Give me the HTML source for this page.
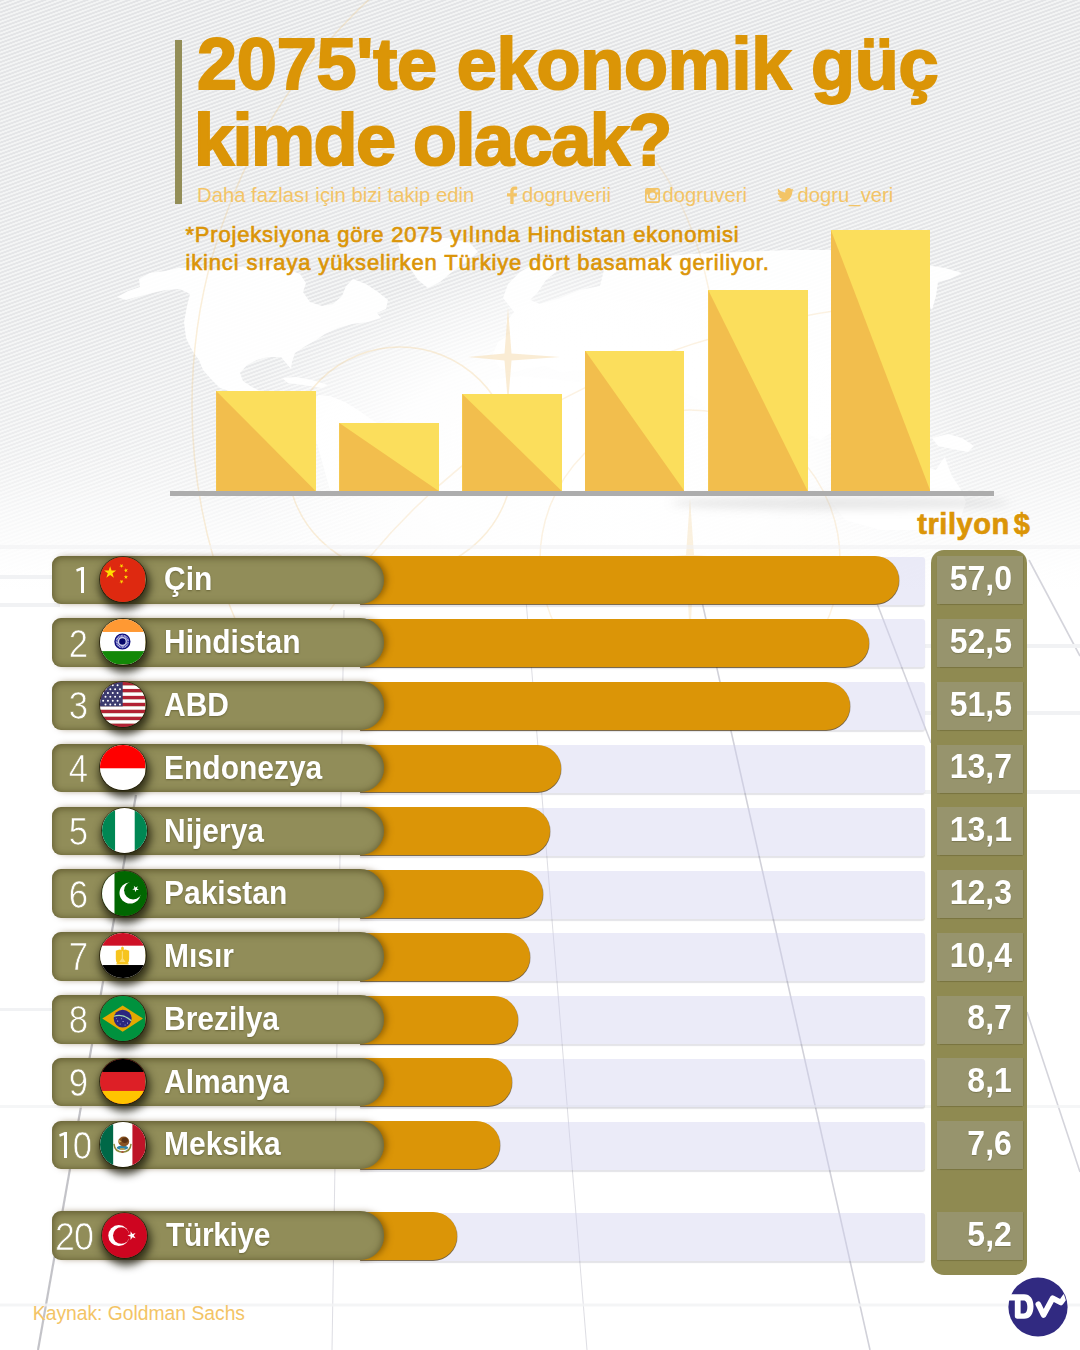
<!DOCTYPE html>
<html lang="tr"><head><meta charset="utf-8"><title>2075'te ekonomik güç kimde olacak?</title>
<style>
*{box-sizing:border-box;margin:0;padding:0}
html,body{width:1080px;height:1350px;overflow:hidden;background:#fff}
body{position:relative;font-family:"Liberation Sans",sans-serif}
.abs{position:absolute}
#bg{left:0;top:0;width:1080px;height:620px;
 background:
  linear-gradient(to bottom,rgba(255,255,255,0) 0,rgba(255,255,255,.1) 320px,rgba(255,255,255,.42) 480px,#fff 590px),
  repeating-linear-gradient(-20deg,#E3E4E6 0,#E3E4E6 1.3px,#F3F4F4 1.9px,#F3F4F4 3.1px,#E3E4E6 3.6px);}
#vbar{left:175px;top:40px;width:6.5px;height:164px;background:#938E57}
.t1,.t2{left:197px;color:#DB9507;font-weight:bold;font-size:72px;line-height:72px;white-space:nowrap;-webkit-text-stroke:2px #DB9507}
.t1{top:27.9px;letter-spacing:-.2px}
.t2{top:104.4px;letter-spacing:-1.5px;left:194px}
.sub{color:#F3C466;font-size:20.3px;line-height:22px;white-space:nowrap;top:183.8px}
.desc{left:186px;color:#DB9507;font-size:22px;line-height:28px;white-space:nowrap;letter-spacing:.74px;-webkit-text-stroke:.65px #DB9507}
#base{left:170px;top:490.5px;width:824px;height:5.5px;background:#ADADAD}
.yb{background:#FBDE5C;overflow:hidden}
.yb i{position:absolute;left:0;top:0;width:100%;height:100%;background:#F2BE4D;clip-path:polygon(0 0,0 100%,100% 100%)}
#tril{left:880px;width:150.5px;text-align:right;top:508.2px;color:#DB9507;font-weight:bold;font-size:29px;line-height:32px;white-space:nowrap;letter-spacing:.55px;word-spacing:-4.5px;-webkit-text-stroke:.7px #DB9507}
#col{left:931px;top:550px;width:96px;height:725px;background:#8F8A51;border-radius:13px}
.track{left:360px;width:565px;height:48px;background:rgba(208,208,238,.42);border-radius:0 3px 3px 0;box-shadow:0 1.5px 1px rgba(120,120,140,.2)}
.bar{left:360px;height:47.9px;background:#DB9507;border-radius:0 24px 24px 0;box-shadow:0 1px 0 rgba(70,45,0,.6),.7px .5px 0 rgba(70,45,0,.35)}
.pill{left:51.5px;width:332.5px;height:48.6px;background:#918D59;border-radius:9px 24px 24px 9px;
 box-shadow:inset 0 1px 7px 1px rgba(66,60,22,.6),4px 0 6px -1px rgba(80,50,0,.5)}
.num{left:37.5px;width:80px;text-align:center;color:#fff;font-size:38.5px;line-height:48px;height:48px;letter-spacing:-1px;-webkit-text-stroke:.7px #918D59;transform:scaleX(.9)}
.one{fill:#fff}
.name{left:163.6px;color:#fff;font-weight:bold;font-size:33.5px;line-height:48px;height:48px;white-space:nowrap;text-shadow:0 1px 2px rgba(60,55,20,.45);transform:scaleX(.895);transform-origin:0 50%}
.flag{left:100.4px;width:45.2px;height:45.2px;border-radius:50%;box-shadow:1.5px 5px 8px 2.5px rgba(22,20,5,.78),0 0 0 .8px rgba(40,30,10,.85);overflow:hidden}
.flag svg{display:block;width:100%;height:100%}
.cell{left:936.7px;width:86.5px;height:48px;background:#97946D;box-shadow:0 1.2px 1px rgba(90,86,40,.4),1px 0 0 rgba(120,116,70,.45)}
.cell b{position:absolute;right:11px;top:-1.2px;color:#fff;font-weight:bold;font-size:34.4px;line-height:46px;white-space:nowrap;text-shadow:0 1px 1px rgba(70,66,30,.35);transform:scaleX(.93);transform-origin:100% 50%}
#src{left:32.8px;top:1302px;color:#F3C466;font-size:19.3px;line-height:24px;white-space:nowrap}
#logo{left:1007.5px;top:1277.1px;width:60px;height:60px}
</style></head><body>
<div id="bg" class="abs"></div>
<svg class="abs" style="left:0;top:0" width="1080" height="640" viewBox="0 0 1080 640">
<defs>
<radialGradient id="glow" cx="0.5" cy="0.5" r="0.5"><stop offset="0" stop-color="#fff" stop-opacity="1"/><stop offset=".55" stop-color="#fff" stop-opacity=".92"/><stop offset=".8" stop-color="#fff" stop-opacity=".45"/><stop offset="1" stop-color="#fff" stop-opacity="0"/></radialGradient>
<linearGradient id="fade" x1="0" y1="0" x2="0" y2="1"><stop offset="0" stop-color="#fff" stop-opacity="0"/><stop offset=".5" stop-color="#fff" stop-opacity=".4"/><stop offset="1" stop-color="#fff" stop-opacity=".9"/></linearGradient>
</defs>
<g fill="#fff" fill-opacity=".93" id="map">
<path d="M117 297 L128 291 L140 287 L139 279 L150 273 L165 271 L178 268 L196 267 L215 270 L232 266 L252 268 L270 265 L287 269 L300 274 L306 283 L303 292 L310 302 L322 306 L333 304 L342 296 L346 286 L353 279 L366 284 L378 292 L388 300 L386 309 L377 313 L381 318 L368 322 L352 324 L338 328 L325 334 L316 340 L304 347 L295 353 L292 362 L291 369 L286 363 L281 357 L268 357 L257 360 L247 365 L240 373 L243 381 L252 387 L262 392 L270 397 L282 400 L292 398 L300 404 L310 410 L318 395 L330 396 L345 402 L358 410 L368 417 L380 425 L395 432 L405 445 L400 470 L380 490 L330 490 L316 440 L300 420 L280 412 L262 405 L246 398 L232 392 L220 388 L210 378 L203 370 L199 360 L193 352 L186 338 L184 322 L187 306 L190 294 L180 289 L166 290 L152 293 L137 297 L126 300 Z"/>
<path d="M282 378 L296 377 L312 380 L328 385 L322 388 L304 385 L288 383 Z"/>
<path d="M398 243 L420 238 L448 238 L470 243 L478 252 L466 262 L452 272 L440 282 L428 288 L418 280 L410 268 L402 256 Z"/>
<path d="M503 298 L508 284 L520 272 L534 264 L548 260 L560 262 L556 272 L546 280 L538 292 L530 300 L540 304 L560 298 L580 290 L600 286 L604 270 L620 262 L650 258 L690 254 L740 252 L790 250 L830 250 L860 254 L890 258 L920 264 L945 268 L962 273 L950 279 L938 282 L936 296 L932 310 L926 300 L922 288 L910 290 L900 300 L905 318 L898 335 L890 350 L880 365 L870 380 L860 395 L850 410 L835 430 L820 440 L800 430 L780 410 L760 420 L740 440 L720 430 L700 400 L680 390 L660 395 L640 380 L620 372 L600 376 L580 370 L560 372 L545 366 L530 368 L515 372 L500 368 L492 356 L498 342 L510 334 L506 322 L514 312 Z"/>
<path d="M490 380 L520 376 L560 380 L600 384 L630 400 L650 430 L640 470 L610 500 L570 500 L550 460 L520 440 L495 420 L484 400 Z"/>
<path d="M932 438 L948 434 L962 438 L974 446 L968 452 L952 449 L938 446 Z"/>
<path d="M832 470 L860 462 L890 460 L915 464 L936 470 L941 462 L945 457 L948 466 L952 476 L960 488 L966 502 L960 520 L930 530 L880 530 L845 520 L830 500 Z"/>
</g>
<ellipse cx="600" cy="455" rx="370" ry="200" fill="url(#glow)"/>
<rect x="0" y="440" width="1080" height="200" fill="url(#fade)"/>
<g fill="none" stroke="#F0C070" stroke-opacity=".26" stroke-width="1.5">
<circle cx="745" cy="405" r="553"/>
<circle cx="400" cy="460" r="113"/>
<circle cx="690" cy="560" r="150" stroke-opacity=".2"/>
<path d="M330 610 Q520 330 930 300" stroke-opacity=".2"/>
<path d="M655 160 Q720 250 722 420" stroke-opacity=".2"/>
</g>
<g fill="#F6DDB0" fill-opacity=".55">
<path d="M508 308 L511.5 353.5 L560 357 L511.5 360.5 L508 404 L504.5 360.5 L468 357 L504.5 353.5Z"/>
<path d="M690 498 L694 555 L760 560 L694 565 L690 640 L686 565 L620 560 L686 555Z" fill-opacity=".4"/>
</g>
<ellipse cx="840" cy="503" rx="170" ry="7" fill="#999" fill-opacity=".22" filter="url(#bl)"/>
<defs><filter id="bl" x="-20%" y="-300%" width="140%" height="700%"><feGaussianBlur stdDeviation="4"/></filter></defs>
</svg>
<svg class="abs" style="left:0;top:520px" width="1080" height="830" viewBox="0 520 1080 830">
<g fill="none" stroke="#C9C9D2" stroke-width="1.6">
<path d="M696 575 L870 1350" stroke-opacity=".85"/>
<path d="M866 575 L931 743 M1027 1012 L1080 1172" stroke-opacity=".8"/>
<path d="M1029 560 L1080 656" stroke-opacity=".8"/>
<path d="M136 795 L38 1350" stroke="#BDBDC2" stroke-width="2.2" stroke-opacity=".9"/>
<path d="M524 575 L587 1350" stroke-width=".9" stroke-opacity=".7"/>
<path d="M344 610 L332 1350" stroke-width=".9" stroke-opacity=".7"/>
</g>
<g fill="#F1F2F4">
<rect x="0" y="545" width="1080" height="4" fill-opacity=".6"/><rect x="0" y="575" width="60" height="4"/><rect x="0" y="603" width="60" height="4"/>
<rect x="925" y="644" width="155" height="4"/><rect x="925" y="711" width="155" height="4"/><rect x="925" y="790" width="155" height="4"/>
<rect x="0" y="1008" width="60" height="3"/><rect x="0" y="1105" width="1080" height="3" fill-opacity=".7"/><rect x="0" y="1303.5" width="1080" height="3" fill-opacity=".8"/>
</g>
</svg>
<div id="vbar" class="abs"></div>
<div class="abs t1">2075'te ekonomik güç</div>
<div class="abs t2">kimde olacak?</div>
<div class="abs sub" style="left:197px">Daha fazlası için bizi takip edin</div>
<svg class="abs" style="left:506px;top:186px" width="12" height="18" viewBox="0 0 12 18"><path d="M7.6 18V10.4h3l.5-3.2H7.6V5.3c0-1 .4-1.6 1.7-1.6h1.9V.8C10.8.7 9.8.6 8.7.6 6 .6 4.3 2.2 4.3 4.9v2.3H1v3.2h3.3V18z" fill="#F3C466"/></svg>
<div class="abs sub" style="left:522px">dogruverii</div>
<svg class="abs" style="left:644.5px;top:187.5px" width="15" height="15" viewBox="0 0 15 15"><path fill-rule="evenodd" d="M2.2 0h10.6A2.2 2.2 0 0 1 15 2.2v10.6a2.2 2.2 0 0 1-2.2 2.2H2.2A2.2 2.2 0 0 1 0 12.8V2.2A2.2 2.2 0 0 1 2.2 0zM10.6 1.7v2.6h2.6V1.7zM7.5 4.6a2.9 2.9 0 1 0 0 5.8 2.9 2.9 0 0 0 0-5.8zM1.7 6.400v6a.9.9 0 0 0 .9.9h9.8a.9.9 0 0 0 .9-.9v-6h-1.400a4.6 4.6 0 1 1-8.8 0z" fill="#F3C466"/></svg>
<div class="abs sub" style="left:662.5px">dogruveri</div>
<svg class="abs" style="left:777px;top:188px" width="17" height="14" viewBox="0 0 17 14"><path d="M17 1.7c-.6.3-1.3.5-2 .6.7-.4 1.3-1.100 1.5-1.9-.7.400-1.400.7-2.2.8A3.5 3.5 0 0 0 8.3 4.400C5.400 4.3 2.9 2.9 1.2.8.400 2.3.8 4.2 2.3 5.2c-.6 0-1.100-.2-1.6-.4 0 1.7 1.2 3.100 2.8 3.400-.5.100-1 .2-1.6.1.400 1.400 1.7 2.400 3.3 2.400A7 7 0 0 1 0 12.2 9.9 9.9 0 0 0 5.3 13.8c6.5 0 10.2-5.5 10-10.400.7-.5 1.3-1.100 1.7-1.7z" fill="#F3C466"/></svg>
<div class="abs sub" style="left:797.5px">dogru_veri</div>
<div class="abs desc" style="top:220.5px;letter-spacing:.79px;left:185.5px">*Projeksiyona göre 2075 yılında Hindistan ekonomisi</div>
<div class="abs desc" style="top:248.5px;letter-spacing:.84px;left:185.5px">ikinci sıraya yükselirken Türkiye dört basamak geriliyor.</div>
<div class="abs yb" style="left:216.2px;top:391px;width:99.4px;height:100.0px"><i></i></div>
<div class="abs yb" style="left:339.3px;top:423px;width:99.4px;height:68.0px"><i></i></div>
<div class="abs yb" style="left:462.3px;top:394px;width:99.4px;height:97.0px"><i></i></div>
<div class="abs yb" style="left:585px;top:350.5px;width:99.4px;height:140.5px"><i></i></div>
<div class="abs yb" style="left:708.3px;top:290.3px;width:99.4px;height:200.7px"><i></i></div>
<div class="abs yb" style="left:831px;top:230.2px;width:99.4px;height:260.8px"><i></i></div>
<div id="base" class="abs"></div>
<div id="tril" class="abs">trilyon $</div>
<div id="col" class="abs"></div>
<div class="abs track" style="top:556.70px"></div><div class="abs bar" style="top:556.20px;width:538.7px"></div><div class="abs pill" style="top:555.50px"></div><svg class="abs" style="left:75.1px;top:567.20px" width="10" height="27" viewBox="-9 0 10 27"><path class="one" d="M0 0V25.9H-3V3.2L-7.200 4.8L-7.800 2.2L-2.300 0Z"/></svg><div class="abs flag" style="top:556.60px"><svg viewBox="0 0 46 46"><rect width="46" height="46" fill="#DE2910"/>
<polygon points="10.30,9.30 11.76,13.79 16.48,13.79 12.66,16.57 14.12,21.06 10.30,18.28 6.48,21.06 7.94,16.57 4.12,13.79 8.84,13.79" fill="#FFDE00"/>
<polygon points="23.22,7.12 22.73,8.71 24.10,9.67 22.43,9.70 21.94,11.30 21.40,9.72 19.73,9.75 21.06,8.74 20.52,7.16 21.88,8.12" fill="#FFDE00"/>
<polygon points="26.00,11.33 26.79,12.81 28.43,12.52 27.27,13.72 28.05,15.20 26.55,14.47 25.39,15.67 25.62,14.01 24.12,13.28 25.77,12.99" fill="#FFDE00"/>
<polygon points="26.40,18.10 26.92,19.69 28.59,19.69 27.24,20.67 27.75,22.26 26.40,21.28 25.05,22.26 25.56,20.67 24.21,19.69 25.88,19.69" fill="#FFDE00"/>
<polygon points="23.22,23.22 22.73,24.81 24.10,25.77 22.43,25.80 21.94,27.40 21.40,25.82 19.73,25.85 21.06,24.84 20.52,23.26 21.88,24.22" fill="#FFDE00"/></svg></div><div class="abs name" style="top:555.40px">Çin</div><div class="abs cell" style="top:556.20px"><b>57,0</b></div>
<div class="abs track" style="top:619.48px"></div><div class="abs bar" style="top:618.98px;width:509.3px"></div><div class="abs pill" style="top:618.28px"></div><div class="abs num" style="top:619.58px">2</div><div class="abs flag" style="top:619.38px"><svg viewBox="0 0 46 46"><rect width="46" height="46" fill="#fff"/>
<rect width="46" height="13.2" fill="#FF9933"/>
<rect y="32.7" width="46" height="13.3" fill="#138808"/>
<circle cx="22.8" cy="22.9" r="7.5" fill="#dfe0f3" stroke="#0B0B7C" stroke-width="1.5"/>
<circle cx="22.8" cy="22.9" r="5.6" fill="none" stroke="#3A3AA5" stroke-width="2.4" stroke-dasharray="0.9 0.57"/>
<circle cx="22.8" cy="22.9" r="3.3" fill="#06066A"/></svg></div><div class="abs name" style="top:618.18px">Hindistan</div><div class="abs cell" style="top:618.98px"><b>52,5</b></div>
<div class="abs track" style="top:682.26px"></div><div class="abs bar" style="top:681.76px;width:489.8px"></div><div class="abs pill" style="top:681.06px"></div><div class="abs num" style="top:682.36px">3</div><div class="abs flag" style="top:682.16px"><svg viewBox="0 0 46 46"><rect y="0.00" width="46" height="3.56" fill="#B22234"/><rect y="3.54" width="46" height="3.56" fill="#fff"/><rect y="7.08" width="46" height="3.56" fill="#B22234"/><rect y="10.62" width="46" height="3.56" fill="#fff"/><rect y="14.16" width="46" height="3.56" fill="#B22234"/><rect y="17.70" width="46" height="3.56" fill="#fff"/><rect y="21.24" width="46" height="3.56" fill="#B22234"/><rect y="24.78" width="46" height="3.56" fill="#fff"/><rect y="28.32" width="46" height="3.56" fill="#B22234"/><rect y="31.86" width="46" height="3.56" fill="#fff"/><rect y="35.40" width="46" height="3.56" fill="#B22234"/><rect y="38.94" width="46" height="3.56" fill="#fff"/><rect y="42.48" width="46" height="3.56" fill="#B22234"/><rect width="23.1" height="24.8" fill="#3C3B6E"/><circle cx="3.20" cy="3.40" r="1.0" fill="#fff"/><circle cx="8.10" cy="3.40" r="1.0" fill="#fff"/><circle cx="13.00" cy="3.40" r="1.0" fill="#fff"/><circle cx="17.90" cy="3.40" r="1.0" fill="#fff"/><circle cx="5.60" cy="7.30" r="1.0" fill="#fff"/><circle cx="10.50" cy="7.30" r="1.0" fill="#fff"/><circle cx="15.40" cy="7.30" r="1.0" fill="#fff"/><circle cx="20.30" cy="7.30" r="1.0" fill="#fff"/><circle cx="3.20" cy="11.20" r="1.0" fill="#fff"/><circle cx="8.10" cy="11.20" r="1.0" fill="#fff"/><circle cx="13.00" cy="11.20" r="1.0" fill="#fff"/><circle cx="17.90" cy="11.20" r="1.0" fill="#fff"/><circle cx="5.60" cy="15.10" r="1.0" fill="#fff"/><circle cx="10.50" cy="15.10" r="1.0" fill="#fff"/><circle cx="15.40" cy="15.10" r="1.0" fill="#fff"/><circle cx="20.30" cy="15.10" r="1.0" fill="#fff"/><circle cx="3.20" cy="19.00" r="1.0" fill="#fff"/><circle cx="8.10" cy="19.00" r="1.0" fill="#fff"/><circle cx="13.00" cy="19.00" r="1.0" fill="#fff"/><circle cx="17.90" cy="19.00" r="1.0" fill="#fff"/><circle cx="5.60" cy="22.90" r="1.0" fill="#fff"/><circle cx="10.50" cy="22.90" r="1.0" fill="#fff"/><circle cx="15.40" cy="22.90" r="1.0" fill="#fff"/><circle cx="20.30" cy="22.90" r="1.0" fill="#fff"/></svg></div><div class="abs name" style="top:680.96px">ABD</div><div class="abs cell" style="top:681.76px"><b>51,5</b></div>
<div class="abs track" style="top:745.04px"></div><div class="abs bar" style="top:744.54px;width:201.3px"></div><div class="abs pill" style="top:743.84px"></div><div class="abs num" style="top:745.14px">4</div><div class="abs flag" style="top:744.94px"><svg viewBox="0 0 46 46"><rect width="46" height="46" fill="#fff"/><rect width="46" height="23.7" fill="#FF0000"/></svg></div><div class="abs name" style="top:743.74px">Endonezya</div><div class="abs cell" style="top:744.54px"><b>13,7</b></div>
<div class="abs track" style="top:807.82px"></div><div class="abs bar" style="top:807.32px;width:190.2px"></div><div class="abs pill" style="top:806.62px"></div><div class="abs num" style="top:807.92px">5</div><div class="abs flag" style="top:807.72px;left:101.9px"><svg viewBox="0 0 46 46"><rect width="46" height="46" fill="#fff"/><rect width="13.3" height="46" fill="#008753"/><rect x="33.3" width="12.7" height="46" fill="#008753"/></svg></div><div class="abs name" style="top:806.52px">Nijerya</div><div class="abs cell" style="top:807.32px"><b>13,1</b></div>
<div class="abs track" style="top:870.60px"></div><div class="abs bar" style="top:870.10px;width:182.6px"></div><div class="abs pill" style="top:869.40px"></div><div class="abs num" style="top:870.70px">6</div><div class="abs flag" style="top:870.50px;left:101.9px"><svg viewBox="0 0 46 46"><rect width="46" height="46" fill="#016701"/><rect width="12.7" height="46" fill="#fff"/>
<circle cx="28.6" cy="22.4" r="10.8" fill="#fff"/><circle cx="31.7" cy="19.7" r="9.2" fill="#016701"/>
<polygon points="36.45,15.42 35.50,17.78 37.45,19.41 34.91,19.23 33.96,21.59 33.34,19.12 30.80,18.95 32.96,17.60 32.35,15.13 34.29,16.77" fill="#fff"/></svg></div><div class="abs name" style="top:869.30px">Pakistan</div><div class="abs cell" style="top:870.10px"><b>12,3</b></div>
<div class="abs track" style="top:933.38px"></div><div class="abs bar" style="top:932.88px;width:169.8px"></div><div class="abs pill" style="top:932.18px"></div><div class="abs num" style="top:933.48px">7</div><div class="abs flag" style="top:933.28px"><svg viewBox="0 0 46 46"><rect width="46" height="46" fill="#fff"/><rect width="46" height="12.9" fill="#CE1126"/><rect y="32.6" width="46" height="13.4" fill="#000"/>
<path d="M22.8 13.7 q1.7 .3 1.5 2.2 l-.2 1.3 q2 -.7 3.5 .2 l2.1 .7 v8.4 q0 3 -1.7 4.2 h1.1 v1.4 h-12.4 v-1.4 h1.1 q-1.7 -1.2 -1.7 -4.2 v-8.4 l2.1 -.7 q1.5 -.9 3.5 -.2 l-.2 -1.3 q-.2 -1.9 1.3 -2.200z" fill="#F6C41E"/>
<path d="M22.150 18.5 h1.3 v7.5 l2.6 3.5 h-6.5 l2.6 -3.500z" fill="#FCE48A" fill-opacity=".8"/></svg></div><div class="abs name" style="top:932.08px">Mısır</div><div class="abs cell" style="top:932.88px"><b>10,4</b></div>
<div class="abs track" style="top:996.16px"></div><div class="abs bar" style="top:995.66px;width:158.0px"></div><div class="abs pill" style="top:994.96px"></div><div class="abs num" style="top:996.26px">8</div><div class="abs flag" style="top:996.06px"><svg viewBox="0 0 46 46"><rect width="46" height="46" fill="#00923E"/>
<polygon points="23.1,9.7 43.8,23 23.1,36.3 2.3,23" fill="#E5A800"/>
<circle cx="23.1" cy="23" r="9.1" fill="#2B2780"/>
<path d="M14.3 20.6 Q23.5 17.6 31.8 25.2" fill="none" stroke="#9ED8AE" stroke-width="1.3"/>
<g fill="#dfe6ff"><circle cx="18" cy="25.5" r=".55"/><circle cx="20.5" cy="28.5" r=".5"/><circle cx="23.5" cy="26" r=".55"/><circle cx="25.5" cy="29.5" r=".5"/><circle cx="28" cy="27.5" r=".55"/><circle cx="22" cy="23.2" r=".45"/><circle cx="16.5" cy="22.8" r=".4"/></g></svg></div><div class="abs name" style="top:994.86px">Brezilya</div><div class="abs cell" style="top:995.66px"><b>8,7</b></div>
<div class="abs track" style="top:1058.94px"></div><div class="abs bar" style="top:1058.44px;width:152.4px"></div><div class="abs pill" style="top:1057.74px"></div><div class="abs num" style="top:1059.04px">9</div><div class="abs flag" style="top:1058.84px"><svg viewBox="0 0 46 46"><rect width="46" height="46" fill="#DD1F26"/><rect width="46" height="13.2" fill="#000"/><rect y="32.5" width="46" height="13.5" fill="#FFC400"/></svg></div><div class="abs name" style="top:1057.64px">Almanya</div><div class="abs cell" style="top:1058.44px"><b>8,1</b></div>
<div class="abs track" style="top:1121.72px"></div><div class="abs bar" style="top:1121.22px;width:140.0px"></div><div class="abs pill" style="top:1120.52px"></div><svg class="abs" style="left:58.2px;top:1132.22px" width="10" height="27" viewBox="-9 0 10 27"><path class="one" d="M0 0V25.9H-3V3.2L-7.200 4.8L-7.800 2.2L-2.300 0Z"/></svg><div class="abs num" style="top:1121.82px;left:41.65px">0</div><div class="abs flag" style="top:1121.62px"><svg viewBox="0 0 46 46"><rect width="46" height="46" fill="#fff"/><rect width="13.4" height="46" fill="#006847"/><rect x="33" width="13" height="46" fill="#BE1428"/>
<path d="M14.2 22.3 Q15 30.7 22.9 30.7 Q30.8 30.7 31.6 22.3" fill="none" stroke="#8C8A3C" stroke-width="1.5"/>
<ellipse cx="22.9" cy="26.2" rx="5.8" ry="2.3" fill="#2F86A8"/>
<ellipse cx="24.2" cy="19.8" rx="5.5" ry="5.1" fill="#8A5320"/>
<ellipse cx="25.2" cy="18.6" rx="3.2" ry="2.8" fill="#5C3212"/>
<path d="M19 17.5 l3 2.5 -3.5 1.5z" fill="#C9A65A"/>
<rect x="20.5" y="26.8" width="4.6" height="1.5" fill="#E0A83A"/><rect x="21.8" y="29.8" width="2.2" height="1.2" fill="#B02A2A"/></svg></div><div class="abs name" style="top:1120.42px">Meksika</div><div class="abs cell" style="top:1121.22px"><b>7,6</b></div>
<div class="abs track" style="top:1212.50px"></div><div class="abs bar" style="top:1212.00px;width:97.1px"></div><div class="abs pill" style="top:1211.30px"></div><div class="abs num" style="top:1212.60px;left:33.9px;transform:scaleX(.93)">20</div><div class="abs flag" style="top:1213.30px;left:101.9px"><svg viewBox="0 0 46 46"><rect width="46" height="46" fill="#CE0520"/>
<circle cx="17.1" cy="23" r="10.7" fill="#fff"/><circle cx="19.6" cy="23" r="8.4" fill="#CE0520"/>
<polygon points="25.90,23.00 29.08,21.97 29.08,18.63 31.04,21.33 34.22,20.30 32.26,23.00 34.22,25.70 31.04,24.67 29.08,27.37 29.08,24.03" fill="#fff"/></svg></div><div class="abs name" style="top:1211.20px;left:165.6px;letter-spacing:-.4px">Türkiye</div><div class="abs cell" style="top:1212.00px"><b>5,2</b></div>
<div id="src" class="abs">Kaynak: Goldman Sachs</div>
<svg id="logo" class="abs" viewBox="0 0 60 60"><defs><clipPath id="lc"><circle cx="30" cy="30" r="29.6"/></clipPath></defs>
<circle cx="30" cy="30" r="29.6" fill="#312A81"/>
<g clip-path="url(#lc)" transform="translate(-.9 0)">
<path d="M0 17.2 H17 C23 17.2 26.4 22 26.4 29.5 C26.4 37 23 41.8 17 41.8 H10.5 Q7.7 41.8 7.7 39 V23.4 H0 Z" fill="#fff"/>
<path d="M13.5 23.4 H16.4 C19 23.4 20.2 26 20.2 30 C20.2 34 19 36.4 16.4 36.4 H13.5 Z" fill="#312A81"/>
<path d="M31.2 27.2 L36.5 38 L45.6 21.2 L53.8 25.5 L60 16.8" stroke="#fff" stroke-width="5.6" stroke-linecap="round" stroke-linejoin="round" fill="none"/>
</g></svg>
</body></html>
